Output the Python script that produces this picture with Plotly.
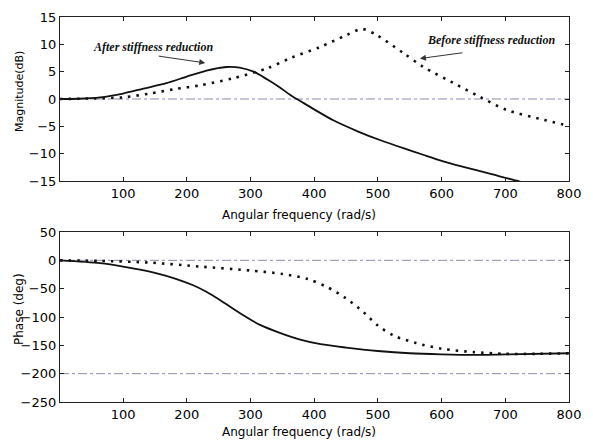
import plotly.graph_objects as go

# ---- data ----
mag_after_w = [1, 30, 64, 100, 132, 168, 200, 231, 262, 283, 305, 326, 345, 363, 380, 400, 430, 470, 503, 540, 571, 600, 634, 680, 723, 760, 800]
mag_after = [0, 0.05, 0.3, 1.0, 1.9, 2.9, 4.1, 5.2, 5.85, 5.75, 5.0, 3.6, 2.2, 0.7, -0.5, -1.9, -3.9, -6.0, -7.5, -9.0, -10.2, -11.3, -12.4, -13.8, -15.1, -16.0, -16.8]

mag_before_w = [1, 50, 100, 142, 180, 221, 273, 326, 363, 409, 451, 475, 498, 540, 571, 624, 660, 702, 760, 800]
mag_before = [0, 0.1, 0.3, 1.0, 1.8, 2.5, 3.8, 5.6, 7.5, 9.5, 11.7, 12.8, 11.7, 8.4, 5.9, 2.6, 0.4, -2.0, -3.8, -4.9]

ph_after_w = [1, 64, 100, 150, 184, 210, 230, 252, 283, 315, 346, 378, 410, 450, 500, 550, 600, 650, 700, 800]
ph_after = [0, -5, -11, -22, -33, -44, -55, -70, -93, -114, -128, -140, -148, -154, -160, -164, -166, -167, -166, -164]

ph_before_w = [1, 64, 142, 221, 300, 350, 390, 420, 450, 477, 500, 525, 560, 600, 650, 700, 750, 800]
ph_before = [0, -1, -4, -11, -18, -24, -33, -47, -67, -91, -115, -133, -146, -156, -162, -165, -165, -164]

x_ticks = [100, 200, 300, 400, 500, 600, 700, 800]
mag_ticks = [15, 10, 5, 0, -5, -10, -15]
ph_ticks = [50, 0, -50, -100, -150, -200, -250]
ref_mag = [0]
ref_ph = [0, -200]

# the page body adds an 8px offset; work in reference pixels and shift
OFF = 8
W, H = 593 - OFF, 442 - OFF
L, R = 60 - OFF, 569 - OFF
T1, B1 = 17 - OFF, 181 - OFF
T2, B2 = 232 - OFF, 402 - OFF


def px(xr):
    return (xr - OFF) / W


def py(yr):
    return 1 - (yr - OFF) / H


fig = go.Figure()

line_solid = dict(color="#111111", width=1.8, shape="spline", smoothing=0.8)
line_dot = dict(color="#111111", width=2.6, dash="2.5px,6px", shape="spline", smoothing=0.8)
ref_line = dict(color="#8a8fae", width=1, dash="dashdot")

for v in ref_mag:
    fig.add_trace(go.Scatter(x=[1, 800], y=[v, v], mode="lines", line=ref_line, xaxis="x", yaxis="y", showlegend=False, hoverinfo="skip"))
for v in ref_ph:
    fig.add_trace(go.Scatter(x=[1, 800], y=[v, v], mode="lines", line=ref_line, xaxis="x2", yaxis="y2", showlegend=False, hoverinfo="skip"))

fig.add_trace(go.Scatter(x=mag_before_w, y=mag_before, mode="lines", line=line_dot, xaxis="x", yaxis="y", name="Before stiffness reduction", showlegend=False))
fig.add_trace(go.Scatter(x=mag_after_w, y=mag_after, mode="lines", line=line_solid, xaxis="x", yaxis="y", name="After stiffness reduction", showlegend=False))
fig.add_trace(go.Scatter(x=ph_before_w, y=ph_before, mode="lines", line=line_dot, xaxis="x2", yaxis="y2", name="Before stiffness reduction", showlegend=False))
fig.add_trace(go.Scatter(x=ph_after_w, y=ph_after, mode="lines", line=line_solid, xaxis="x2", yaxis="y2", name="After stiffness reduction", showlegend=False))

tick_font = dict(family="DejaVu Sans", size=13, color="#000000")
axis_common = dict(showgrid=False, zeroline=False, showline=True, linecolor="#222222", linewidth=1.2,
                   mirror="ticks", ticks="inside", ticklen=4, tickcolor="#222222", tickfont=tick_font)

fig.update_layout(
    width=W, height=H,
    margin=dict(l=0, r=0, t=0, b=0, autoexpand=False),
    paper_bgcolor="white", plot_bgcolor="white",
    xaxis=dict(domain=[L / W, R / W], range=[1, 800], tickvals=x_ticks, anchor="y", **axis_common),
    yaxis=dict(domain=[1 - B1 / H, 1 - T1 / H], range=[-15, 15], tickvals=mag_ticks, anchor="x", **axis_common),
    xaxis2=dict(domain=[L / W, R / W], range=[1, 800], tickvals=x_ticks, anchor="y2", **axis_common),
    yaxis2=dict(domain=[1 - B2 / H, 1 - T2 / H], range=[-250, 50], tickvals=ph_ticks, anchor="x2", **axis_common),
)

title_font = dict(family="DejaVu Sans", size=12, color="#000000")
ann = []
ann.append(dict(x=px(299), y=py(215), xref="paper", yref="paper", text="Angular frequency (rad/s)",
                showarrow=False, font=title_font, xanchor="center", yanchor="middle"))
ann.append(dict(x=px(299), y=py(432), xref="paper", yref="paper", text="Angular frequency (rad/s)",
                showarrow=False, font=title_font, xanchor="center", yanchor="middle"))
ann.append(dict(x=px(19), y=py(92), xref="paper", yref="paper", text="Magnitude(dB)", textangle=-90,
                showarrow=False, font=dict(family="DejaVu Sans", size=11, color="#000000"), xanchor="center", yanchor="middle"))
ann.append(dict(x=px(19), y=py(309), xref="paper", yref="paper", text="Phase (deg)", textangle=-90,
                showarrow=False, font=dict(family="DejaVu Sans", size=12, color="#000000"), xanchor="center", yanchor="middle"))

label_font = dict(family="Liberation Serif", size=12, color="#111111")
ann.append(dict(x=(153 - 59.3) / 0.637, y=(99 - 47) / 5.47, xref="x", yref="y", text="<b><i>After stiffness reduction</i></b>",
                showarrow=False, font=label_font, xanchor="center", yanchor="middle"))
ann.append(dict(x=(491 - 59.3) / 0.637, y=(99 - 40) / 5.47, xref="x", yref="y", text="<b><i>Before stiffness reduction</i></b>",
                showarrow=False, font=label_font, xanchor="center", yanchor="middle"))
ann.append(dict(x=229, y=6.6, xref="x", yref="y", ax=-48, ay=-7, text="", showarrow=True,
                arrowhead=2, arrowsize=1.2, arrowwidth=1, arrowcolor="#333333"))
ann.append(dict(x=566, y=7.4, xref="x", yref="y", ax=44, ay=-6, text="", showarrow=True,
                arrowhead=2, arrowsize=1.2, arrowwidth=1, arrowcolor="#333333"))
fig.update_layout(annotations=ann)

fig.write_html("out.html")
